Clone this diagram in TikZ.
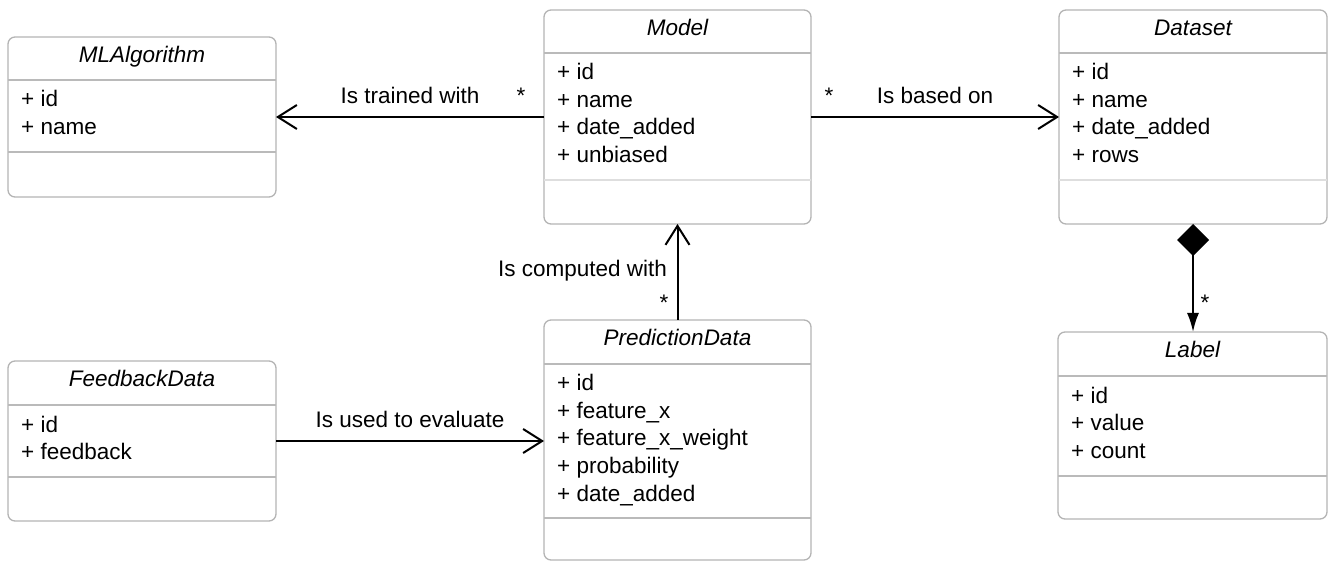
\documentclass[tikz,border=0pt]{standalone}
\usepackage{fontspec}
\setmainfont{Liberation Sans}
\usetikzlibrary{arrows.meta}
\definecolor{Frame}{HTML}{B4B4B4}
\definecolor{Rule}{HTML}{BABABA}
\definecolor{Faint}{HTML}{DEDEDE}
\newcommand{\umlfont}{\fontsize{22.5}{27.5}\selectfont}

\begin{document}
\begin{tikzpicture}[x=1pt, y=-1pt, font=\umlfont,
    classbox/.style={draw=Frame, line width=1.3pt, rounded corners=7pt, inner sep=0pt, outer sep=0pt},
    classname/.style={font=\umlfont\itshape, anchor=base, inner sep=0pt},
    attr/.style={anchor=base west, inner sep=0pt},
    lbl/.style={inner sep=0pt},
    assoc/.style={line width=2pt, -{Straight Barb[length=19pt, width=24pt]}}]
    \useasboundingbox (0,0) rectangle (1334,561);
    % classes: name / box / header and operation rules / title / attributes
    \foreach \n/\xa/\ya/\xb/\yb/\ha/\hb/\rc/\t/\at in {
        mlalgorithm/8/37/276/197/80/152/Rule/MLAlgorithm/{id,name},
        model/544/10/811/224/53/180/Faint/Model/{id,name,date\_added,unbiased},
        dataset/1059/10/1327/224/53/180/Faint/Dataset/{id,name,date\_added,rows},
        feedbackdata/8/361/276/521/405/477/Rule/FeedbackData/{id,feedback},
        predictiondata/544/320/811/560/364/518/Rule/PredictionData/{id,feature\_x,feature\_x\_weight,probability,date\_added},
        label/1058/332/1327/519/376/476/Rule/Label/{id,value,count}} {
        \node[classbox, minimum width=\xb-\xa, minimum height=\yb-\ya] (\n) at ({(\xa+\xb)/2},{(\ya+\yb)/2}) {};
        \draw[Rule, line width=1.3pt] (\xa,\ha) -- (\xb,\ha);
        \draw[\rc, line width=1.3pt] (\xa,\hb) -- (\xb,\hb);
        \node[classname] (\n-title) at ({(\xa+\xb)/2},\ya+26) {\t};
        \foreach \a [count=\i] in \at {
            \node[attr] (\n-\i) at (\xa+13,\ha+27.5*\i-0.5) {+ \a};
        }
    }
    % associations
    \draw[assoc] (model.west) -- node[lbl, anchor=base, yshift=13pt] (trained) {Is trained with}
        node[lbl, pos=0.086, anchor=base, yshift=13pt] (trainedm) {*} (mlalgorithm.east);
    \draw[assoc] (model.east) -- node[lbl, anchor=base, yshift=13pt] (based) {Is based on}
        node[lbl, pos=0.073, anchor=base, yshift=13pt] (basedm) {*} (dataset.west);
    \draw[assoc] (predictiondata.north) -- node[lbl, pos=0.448, anchor=base east, xshift=-9.5pt] (computed) {Is computed with}
        node[lbl, pos=0.094, anchor=base, xshift=-13.5pt] (computedm) {*} (model.south);
    \draw[assoc] (feedbackdata.east) -- node[lbl, anchor=base, yshift=13pt] (evaluate) {Is used to evaluate} (feedbackdata.east -| predictiondata.west);
    % composition
    \draw[line width=2pt, {Diamond[length=32pt, width=32pt]}-{Latex[length=19pt, width=12pt]}] (dataset.south) --
        node[lbl, pos=0.8, anchor=base, xshift=12pt] (labelm) {*} (dataset.south |- label.north);
\end{tikzpicture}
\end{document}
